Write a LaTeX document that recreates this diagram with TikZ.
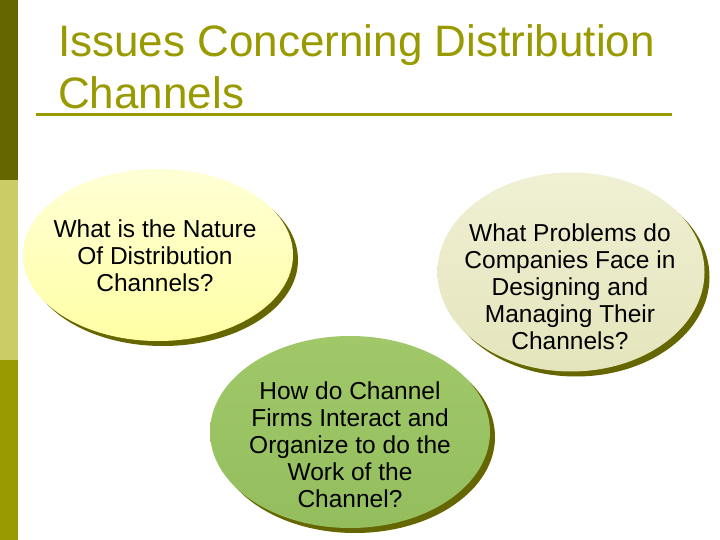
\documentclass[tikz,border=0pt]{standalone}
\usepackage{fontspec}
\setmainfont{Liberation Sans}
\usetikzlibrary{shapes.geometric,shadows}
\definecolor{olivedark}{RGB}{102,102,0}
\definecolor{olivemid}{RGB}{153,153,0}
\definecolor{olivelight}{RGB}{204,204,102}
\definecolor{titlecol}{RGB}{153,153,0}
\tikzset{
  bubble/.style={ellipse, inner sep=0pt,
    drop shadow={shadow xshift=5pt, shadow yshift=-5pt, fill=olivedark, opacity=1}},
  bubbletext/.style={inner sep=0pt, align=center, text=black,
    font=\fontsize{24.5}{27}\selectfont},
  titletext/.style={anchor=base west, inner sep=0pt, text=titlecol,
    font=\fontsize{44}{52}\selectfont}
}
\begin{document}
\begin{tikzpicture}[x=1pt,y=-1pt]
\useasboundingbox (0,0) rectangle (720,540);
\fill[white] (0,0) rectangle (720,540);
% left bars
\fill[olivedark] (0,0) rectangle (18,180);
\fill[olivelight] (0,180) rectangle (18,360);
\fill[olivemid] (0,360) rectangle (18,540);
% title
\node[titletext] (t1) at (58,57) {Issues Concerning Distribution};
\node[titletext] (t2) at (58,109) {Channels};
\draw[olivemid, line width=3pt] (36,115) -- (672,115);
% bubbles
\node[bubble, minimum width=270pt, minimum height=172pt,
  top color={rgb,255:red,255;green,255;blue,214}, bottom color={rgb,255:red,255;green,255;blue,165}]
  (nature) at (158,255) {};
\node[bubble, minimum width=267pt, minimum height=199pt,
  top color={rgb,255:red,240;green,240;blue,212}, bottom color={rgb,255:red,228;green,228;blue,188}]
  (problems) at (571,272) {};
\node[bubble, minimum width=280pt, minimum height=192pt,
  top color={rgb,255:red,160;green,200;blue,104}, bottom color={rgb,255:red,148;green,190;blue,94}]
  (firms) at (350,432) {};
% texts
\node[bubbletext] (natureText) at (155,256) {What is the Nature\\ Of Distribution\\ Channels?};
\node[bubbletext] (problemsText) at (570,287) {What Problems do\\ Companies Face in\\ Designing and\\ Managing Their\\ Channels?};
\node[bubbletext] (firmsText) at (350,445) {How do Channel\\ Firms Interact and\\ Organize to do the\\ Work of the\\ Channel?};
\end{tikzpicture}
\end{document}
